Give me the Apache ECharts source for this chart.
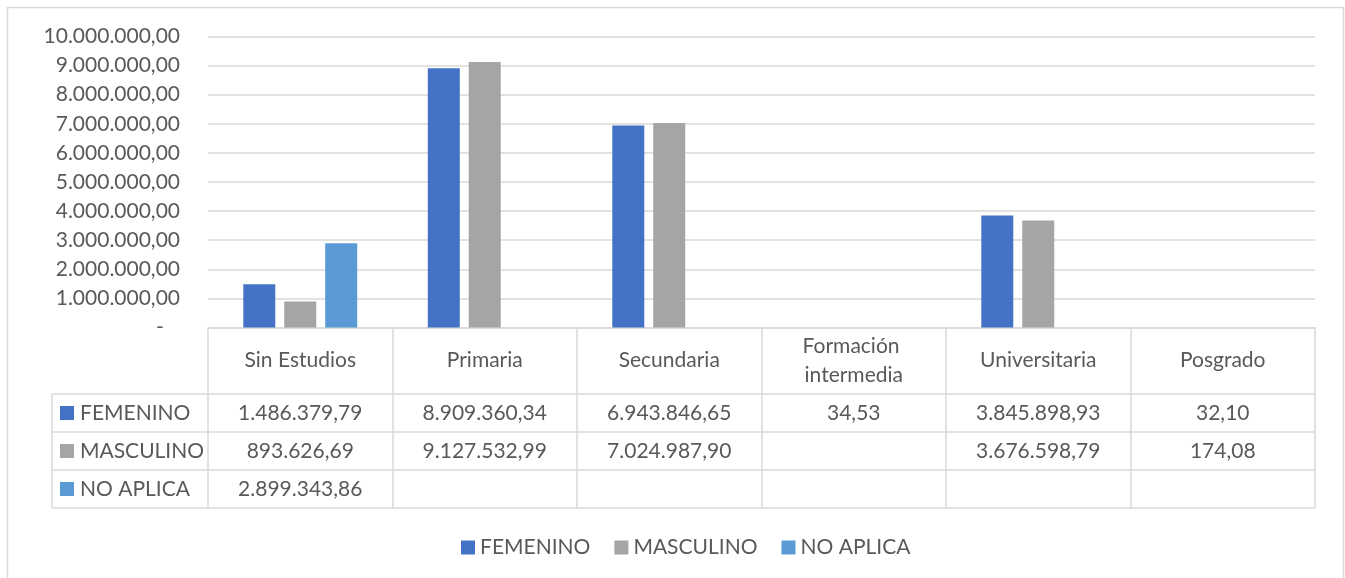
<!DOCTYPE html>
<html>
<head>
<meta charset="utf-8">
<script src="https://cdn.jsdelivr.net/npm/echarts@6/dist/echarts.min.js"></script>
<style>
  html, body { margin: 0; padding: 0; background: #fff; }
  #main { width: 1345px; height: 578px; }
</style>
</head>
<body>
<div id="main"></div>
<script>
// datos
var categories = ['Sin Estudios', 'Primaria', 'Secundaria', 'Formación intermedia', 'Universitaria', 'Posgrado'];
var seriesNames = ['FEMENINO', 'MASCULINO', 'NO APLICA'];
var femenino  = [1486379.79, 8909360.34, 6943846.65, 34.53, 3845898.93, 32.10];
var masculino = [893626.69, 9127532.99, 7024987.90, null, 3676598.79, 174.08];
var noAplica  = [2899343.86, null, null, null, null, null];
var yMin = 0, yMax = 10000000, yStep = 1000000;

var colors = ['#4472C4', '#A5A5A5', '#5B9BD5'];
var txt = '#595959';
var line = '#D9D9D9';
var font = 'Lato';

function fmt(v) {
  var p = v.toFixed(2).split('.');
  p[0] = p[0].replace(/\B(?=(\d{3})+(?!\d))/g, '.');
  return p[0] + ',' + p[1];
}

var headerH = 66.5, rowH = 38, tableLeft = 52;

var allData = [femenino, masculino, noAplica];
var series = [];
for (var i = 0; i < seriesNames.length; i++) {
  series.push({
    name: seriesNames[i],
    type: 'bar',
    data: allData[i],
    barWidth: 32,
    barGap: '28%',
    itemStyle: { color: colors[i] }
  });
}

var option = {
  backgroundColor: '#fff',
  animation: false,
  textStyle: { fontFamily: font },
  grid: { left: 208, right: 30, top: 36.5, bottom: 250.5 },
  legend: {
    data: seriesNames,
    left: 456,
    top: 532,
    icon: 'rect',
    itemWidth: 14,
    itemHeight: 14,
    itemGap: 24,
    textStyle: { color: txt, fontSize: 21, fontFamily: font }
  },
  xAxis: {
    type: 'category',
    data: categories,
    axisLine: { lineStyle: { color: line, width: 1.5 } },
    axisTick: { show: true, length: headerH + 3 * rowH, lineStyle: { color: line, width: 1.5 } },
    axisLabel: {
      color: txt, fontSize: 21, fontFamily: font,
      margin: 33, verticalAlign: 'middle', lineHeight: 29,
      width: 150, overflow: 'break', interval: 0
    }
  },
  yAxis: {
    type: 'value',
    min: yMin, max: yMax, interval: yStep,
    axisLine: { show: false },
    axisTick: { show: false },
    splitLine: { lineStyle: { color: line, width: 1.5 } },
    axisLabel: {
      color: txt, fontSize: 21, fontFamily: font, margin: 28,
      formatter: function (v) { return v === 0 ? '-   ' : fmt(v); }
    }
  },
  series: series
};

var chart = echarts.init(document.getElementById('main'));
chart.setOption(option);

// tabla de datos debajo del eje
var x0 = chart.convertToPixel({ xAxisIndex: 0 }, 0);
var x1 = chart.convertToPixel({ xAxisIndex: 0 }, 1);
var band = x1 - x0;
var yBase = chart.convertToPixel({ yAxisIndex: 0 }, 0);
var tableRight = x0 - band / 2 + band * categories.length;
var top0 = yBase + headerH;

var g = [];
g.push({
  type: 'rect', z: -1,
  shape: { x: 7.5, y: 7.5, width: 1336, height: 620 },
  style: { fill: 'none', stroke: line, lineWidth: 1.5 }
});
for (var k = 0; k <= seriesNames.length; k++) {
  g.push({
    type: 'line',
    shape: { x1: tableLeft, y1: top0 + k * rowH, x2: tableRight, y2: top0 + k * rowH },
    style: { stroke: line, lineWidth: 1.5 }
  });
}
g.push({
  type: 'line',
  shape: { x1: tableLeft, y1: top0, x2: tableLeft, y2: top0 + seriesNames.length * rowH },
  style: { stroke: line, lineWidth: 1.5 }
});
for (var i = 0; i < seriesNames.length; i++) {
  var cy = top0 + i * rowH + rowH / 2;
  g.push({
    type: 'rect',
    shape: { x: tableLeft + 8, y: cy - 7, width: 14, height: 14 },
    style: { fill: colors[i] }
  });
  g.push({
    type: 'text',
    style: { x: tableLeft + 28, y: cy, text: seriesNames[i], fill: txt, font: '21px ' + font, textVerticalAlign: 'middle', verticalAlign: 'middle' }
  });
  for (var j = 0; j < categories.length; j++) {
    var v = allData[i][j];
    if (v === null) continue;
    g.push({
      type: 'text',
      style: {
        x: x0 + j * band, y: cy, text: fmt(v), fill: txt, font: '21px ' + font,
        align: 'center', textAlign: 'center', verticalAlign: 'middle', textVerticalAlign: 'middle'
      }
    });
  }
}
chart.setOption({ graphic: g });
</script>
</body>
</html>
